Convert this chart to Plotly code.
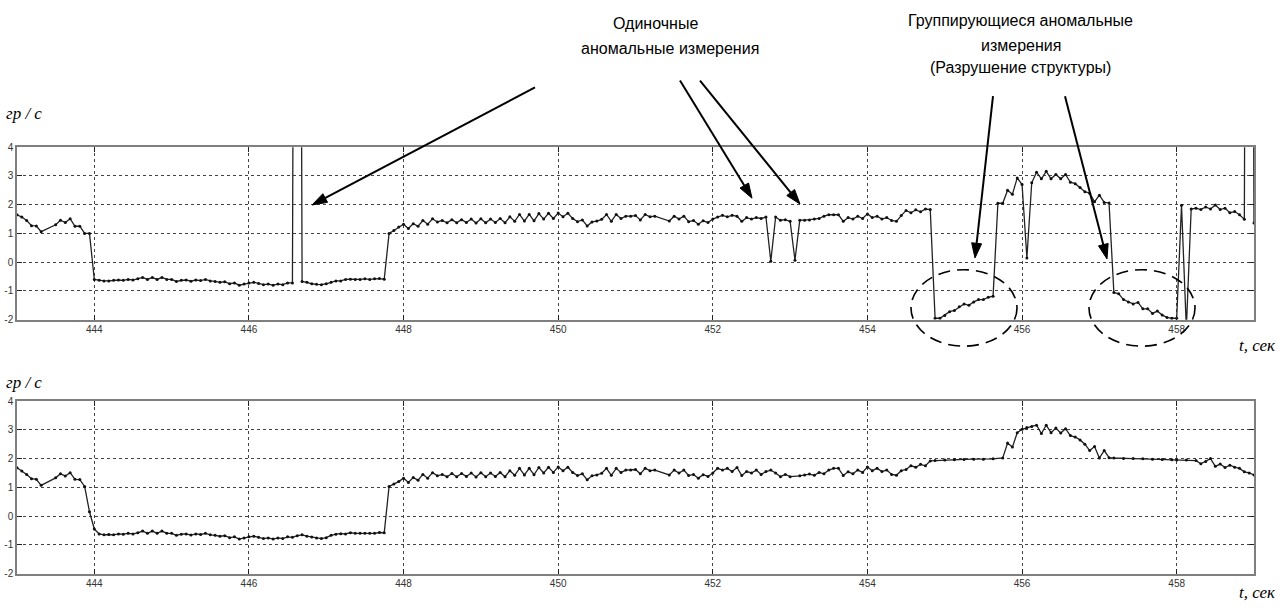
import math
import plotly.graph_objects as go

# ---------------- data ----------------
TIME_START = 443.0          # s, first sample
SAMPLE_STEP = 0.0625        # s, sampling interval
X_TICKS = [444, 446, 448, 450, 452, 454, 456, 458]
Y_TICKS = [-2, -1, 0, 1, 2, 3, 4]
X_RANGE = [443, 459]
Y_RANGE = [-2, 4]

# Raw measurements (upper panel), one row per second; None = no marker (line continues)
RAW_443 = [1.65, 1.57, 1.45, 1.27, 1.26, 1.06, None, None, 1.30, 1.46, 1.38, 1.51, 1.25, 1.25, 1.00, 1.00]
RAW_444 = [-0.60, -0.63, -0.65, -0.65, -0.63, -0.62, -0.63, -0.60, -0.62, -0.58, -0.53, -0.60, -0.53, -0.60, -0.53, -0.60]
RAW_445 = [-0.60, -0.67, -0.63, -0.62, -0.66, -0.62, -0.64, -0.60, -0.65, -0.67, -0.70, -0.68, -0.75, -0.72, -0.80, -0.76]
RAW_446 = [-0.72, -0.70, -0.74, -0.78, -0.76, -0.80, -0.76, -0.78, -0.72, -0.72, 50.0, -0.67, -0.70, -0.75, -0.77, -0.78]
RAW_447 = [-0.75, -0.70, -0.65, -0.65, -0.60, -0.59, -0.60, -0.60, -0.58, -0.60, -0.58, -0.57, -0.59, 1.00, 1.10, 1.22]
RAW_448 = [1.32, 1.17, 1.34, 1.25, 1.45, 1.32, 1.51, 1.40, 1.45, 1.37, 1.48, 1.37, 1.48, 1.38, 1.50, 1.36]
RAW_449 = [1.51, 1.37, 1.50, 1.38, 1.52, 1.37, 1.58, 1.42, 1.66, 1.43, 1.66, 1.44, 1.69, 1.50, 1.70, 1.52]
RAW_450 = [1.71, 1.58, 1.70, 1.52, 1.41, 1.47, 1.26, 1.40, 1.43, 1.49, 1.66, 1.42, 1.66, 1.52, 1.60, 1.60]
RAW_451 = [1.62, 1.47, 1.66, 1.58, 1.60, None, None, 1.43, 1.60, 1.50, 1.60, 1.41, 1.45, 1.32, 1.44, 1.38]
RAW_452 = [1.50, 1.57, 1.63, 1.58, 1.63, 1.60, 1.42, 1.55, 1.50, 1.55, 1.52, 1.57, 0.03, 1.57, 1.46, 1.48]
RAW_453 = [1.42, 0.07, 1.46, 1.46, 1.47, 1.50, 1.52, 1.60, 1.65, 1.65, 1.65, 1.42, 1.55, 1.50, 1.60, 1.52]
RAW_454 = [1.68, 1.55, 1.60, 1.50, 1.55, 1.45, 1.42, 1.62, 1.80, 1.72, 1.82, 1.75, 1.85, 1.83, -1.95, -1.95]
RAW_455 = [-1.85, -1.72, -1.68, -1.55, -1.45, -1.50, -1.38, -1.30, -1.30, -1.22, -1.18, 2.05, 2.05, 2.50, 2.36, 2.93]
RAW_456 = [2.70, 0.15, 2.76, 3.13, 2.90, 3.16, 2.90, 3.05, 2.90, 3.05, 2.78, 2.73, 2.60, 2.45, 2.40, 2.10]
RAW_457 = [2.33, 2.08, 2.06, -1.05, -1.10, -1.30, -1.38, -1.45, -1.40, -1.62, -1.62, -1.78, -1.70, -1.84, -1.92, -1.95]
RAW_458 = [-1.95, 1.98, -2.30, 1.85, 1.88, 1.83, 1.92, 1.85, 1.99, 1.83, 1.88, 1.72, 1.76, 1.65, 1.49, 50.0]
RAW_459 = [1.36]

# Cleaned signal (lower panel)
CLEAN_443 = [1.68, 1.57, 1.45, 1.30, 1.28, 1.07, None, None, 1.33, 1.47, 1.39, 1.51, 1.28, 1.27, 1.03, 0.15]
CLEAN_444 = [-0.45, -0.62, -0.65, -0.64, -0.65, -0.62, -0.63, -0.60, -0.62, -0.58, -0.52, -0.60, -0.52, -0.60, -0.52, -0.60]
CLEAN_445 = [-0.60, -0.67, -0.63, -0.62, -0.66, -0.62, -0.64, -0.60, -0.65, -0.67, -0.70, -0.68, -0.75, -0.72, -0.80, -0.76]
CLEAN_446 = [-0.72, -0.70, -0.74, -0.78, -0.76, -0.80, -0.76, -0.78, -0.72, -0.74, -0.68, -0.65, -0.70, -0.73, -0.76, -0.78]
CLEAN_447 = [-0.75, -0.67, -0.63, -0.61, -0.62, -0.58, -0.60, -0.60, -0.60, -0.60, -0.60, -0.57, -0.58, 1.03, 1.12, 1.20]
CLEAN_448 = [1.32, 1.17, 1.34, 1.25, 1.45, 1.32, 1.51, 1.40, 1.45, 1.37, 1.48, 1.37, 1.48, 1.38, 1.50, 1.36]
CLEAN_449 = [1.51, 1.37, 1.50, 1.38, 1.52, 1.37, 1.58, 1.42, 1.66, 1.43, 1.66, 1.44, 1.69, 1.50, 1.70, 1.52]
CLEAN_450 = [1.71, 1.58, 1.70, 1.52, 1.41, 1.47, 1.26, 1.40, 1.43, 1.49, 1.66, 1.42, 1.66, 1.52, 1.60, 1.60]
CLEAN_451 = [1.62, 1.47, 1.66, 1.58, 1.60, None, None, 1.43, 1.60, 1.50, 1.60, 1.41, 1.45, 1.32, 1.44, 1.38]
CLEAN_452 = [1.50, 1.66, 1.60, 1.66, 1.55, 1.69, 1.41, 1.55, 1.50, 1.60, 1.45, 1.55, 1.60, 1.50, 1.37, 1.45]
CLEAN_453 = [1.37, None, 1.40, 1.43, 1.46, 1.42, 1.52, 1.47, 1.60, 1.66, 1.66, 1.41, 1.54, 1.47, 1.60, 1.52]
CLEAN_454 = [1.71, 1.58, 1.66, 1.55, 1.60, 1.45, 1.42, 1.58, 1.62, 1.75, 1.70, 1.80, 1.75, 1.92, 1.93, None]
CLEAN_455 = [1.95, None, 1.96, None, 1.97, None, 1.98, None, 1.98, None, 1.99, None, 2.02, 2.54, 2.40, 2.90]
CLEAN_456 = [3.02, 3.08, 3.12, 3.16, 2.87, 3.16, 2.90, 3.06, 2.89, 3.04, 2.80, 2.75, 2.65, 2.50, 2.28, 2.42]
CLEAN_457 = [2.02, 2.28, 2.03, 2.02, None, 2.00, None, 2.00, None, 1.99, None, 1.98, None, 1.97, None, 1.96]
CLEAN_458 = [1.95, None, 1.95, None, 1.93, 1.82, 1.90, 2.00, 1.73, 1.81, 1.69, 1.77, 1.70, 1.66, 1.54, 1.50]
CLEAN_459 = [1.43]

RAW = (RAW_443 + RAW_444 + RAW_445 + RAW_446 + RAW_447 + RAW_448 + RAW_449 + RAW_450 + RAW_451
       + RAW_452 + RAW_453 + RAW_454 + RAW_455 + RAW_456 + RAW_457 + RAW_458 + RAW_459)
CLEAN = (CLEAN_443 + CLEAN_444 + CLEAN_445 + CLEAN_446 + CLEAN_447 + CLEAN_448 + CLEAN_449 + CLEAN_450
         + CLEAN_451 + CLEAN_452 + CLEAN_453 + CLEAN_454 + CLEAN_455 + CLEAN_456 + CLEAN_457 + CLEAN_458 + CLEAN_459)
T_RAW = [TIME_START + SAMPLE_STEP * k for k in range(len(RAW))]
T_CLEAN = [TIME_START + SAMPLE_STEP * k for k in range(len(CLEAN))]

# ---------------- figure ----------------
W, H = 1284, 610


def PX(x):
    return x / W


def PY(y):
    return 1 - y / H


fig = go.Figure()
line_style = dict(color="#222222", width=1.3)
marker_style = dict(size=3, color="#111111", symbol="circle")
fig.add_trace(go.Scatter(x=T_RAW, y=RAW, xaxis="x", yaxis="y", mode="lines+markers",
                         line=line_style, marker=marker_style, connectgaps=True, showlegend=False))
fig.add_trace(go.Scatter(x=T_CLEAN, y=CLEAN, xaxis="x2", yaxis="y2", mode="lines+markers",
                         line=line_style, marker=marker_style, connectgaps=True, showlegend=False))

tick_font = dict(family="Liberation Sans, Arial, sans-serif", size=10, color="#333333")
common_x = dict(range=X_RANGE, tickvals=X_TICKS, ticktext=[str(v) for v in X_TICKS],
                showgrid=True, gridcolor="#444444", gridwidth=1, griddash="3px,3px",
                showline=True, linecolor="#7f7f7f", linewidth=1.5, mirror="ticks",
                ticks="inside", ticklen=5, tickcolor="#222222", tickfont=tick_font,
                zeroline=False, domain=[PX(17), PX(1254)])
common_y = dict(range=Y_RANGE, tickvals=Y_TICKS, ticktext=[str(v) for v in Y_TICKS],
                showgrid=True, gridcolor="#444444", gridwidth=1, griddash="3px,3px",
                showline=True, linecolor="#7f7f7f", linewidth=1.5, mirror="ticks",
                ticks="inside", ticklen=5, tickcolor="#222222", tickfont=tick_font,
                zeroline=False)

fig.update_layout(
    width=W, height=H, autosize=False,
    margin=dict(l=0, r=0, t=0, b=0),
    paper_bgcolor="white", plot_bgcolor="white",
    xaxis=dict(common_x, anchor="y"),
    yaxis=dict(common_y, anchor="x", domain=[PY(320), PY(144)]),
    xaxis2=dict(common_x, anchor="y2"),
    yaxis2=dict(common_y, anchor="x2", domain=[PY(579), PY(403)]),
)

# ---------------- text ----------------
label_font = dict(family="Liberation Sans, Arial, sans-serif", size=16, color="black")
serif_it = dict(family="Liberation Serif, Times New Roman, serif", size=17, color="black")
texts = [
    ("Одиночные", 655, 18, "center", label_font),
    ("аномальные измерения", 670, 43, "center", label_font),
    ("Группирующиеся аномальные", 1020, 15, "center", label_font),
    ("измерения", 1021, 40, "center", label_font),
    ("(Разрушение структуры)", 1021, 63, "center", label_font),
    ("<i>гр / с</i>", 4, 110, "left", serif_it),
    ("<i>гр / с</i>", 4, 384, "left", serif_it),
    ("<i>t</i><i>, сек</i>", 1278, 346, "right", serif_it),
    ("<i>t</i><i>, сек</i>", 1278, 598, "right", serif_it),
]
for txt, x, y, anchor, font in texts:
    fig.add_annotation(text=txt, x=PX(x), y=PY(y), xref="paper", yref="paper",
                       xanchor=anchor, yanchor="middle", showarrow=False, font=font)

# ---------------- arrows & ellipses ----------------
shapes = []


def add_arrow(x0, y0, x1, y1, head_len=15, head_w=10, lw=2):
    dx, dy = x1 - x0, y1 - y0
    L = math.hypot(dx, dy)
    ux, uy = dx / L, dy / L
    bx, by = x1 - ux * head_len, y1 - uy * head_len
    nx, ny = -uy, ux
    shapes.append(dict(type="line", xref="paper", yref="paper",
                       x0=PX(x0), y0=PY(y0), x1=PX(bx + ux * 3), y1=PY(by + uy * 3),
                       line=dict(color="black", width=lw)))
    p1 = (bx + nx * head_w / 2, by + ny * head_w / 2)
    p2 = (bx - nx * head_w / 2, by - ny * head_w / 2)
    path = "M {:.5f},{:.5f} L {:.5f},{:.5f} L {:.5f},{:.5f} Z".format(
        PX(x1), PY(y1), PX(p1[0]), PY(p1[1]), PX(p2[0]), PY(p2[1]))
    shapes.append(dict(type="path", xref="paper", yref="paper", path=path,
                       fillcolor="black", line=dict(color="black", width=1)))


ARROWS = [
    (535, 83, 312, 203),
    (680, 76, 752, 196),
    (700, 76, 800, 202),
    (993, 92, 975, 257),
    (1065, 92, 1107, 258),
]
for a in ARROWS:
    add_arrow(*a)

ELLIPSES = [(911, 269, 1017, 347), (1089, 269, 1195, 347)]
for (x0, y0, x1, y1) in ELLIPSES:
    shapes.append(dict(type="circle", xref="paper", yref="paper",
                       x0=PX(x0), y0=PY(y1), x1=PX(x1), y1=PY(y0),
                       line=dict(color="black", width=1.6, dash="12px,7px")))

fig.update_layout(shapes=shapes)

# remove the default page margin so the figure sits at the window origin
PAGE_FIX = "document.body.style.margin='0';document.body.style.overflow='hidden';"
fig.write_html("out.html", post_script=PAGE_FIX, config={"displayModeBar": False})
